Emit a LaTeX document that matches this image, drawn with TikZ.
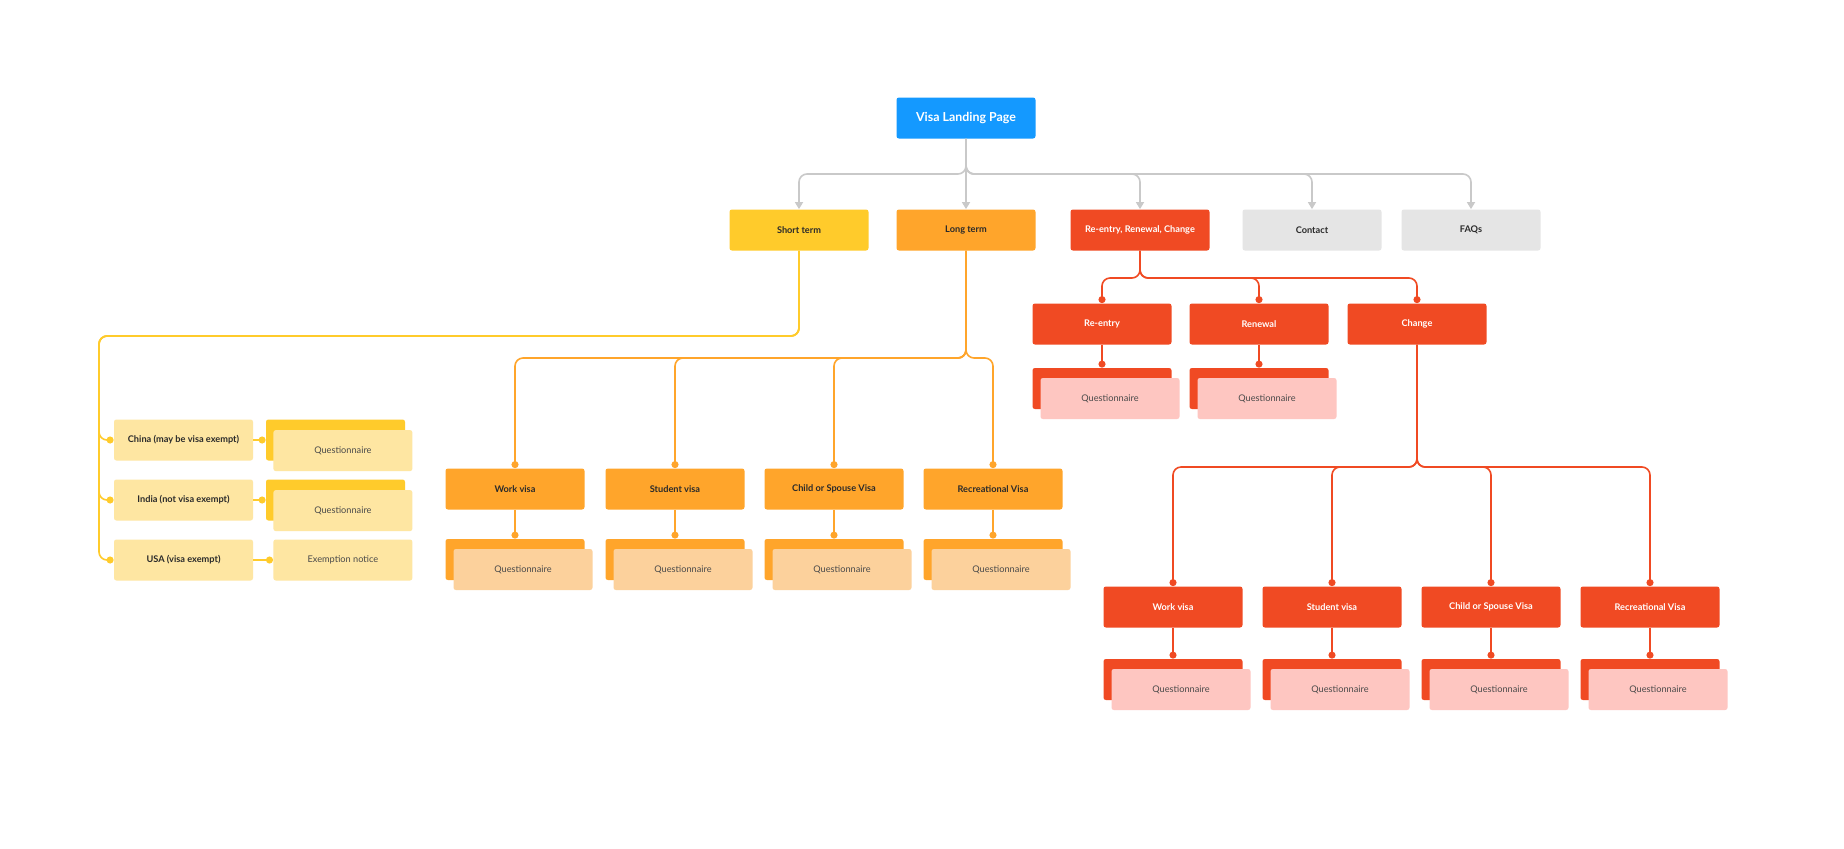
\documentclass[tikz,border=0pt]{standalone}
\usepackage{fontspec}
\setmainfont{Lato}
\usetikzlibrary{arrows.meta}
\definecolor{cblue}{HTML}{1499FF}
\definecolor{cyel}{HTML}{FFCB2B}
\definecolor{cyelL}{HTML}{FEE6A2}
\definecolor{corg}{HTML}{FFA52B}
\definecolor{corgL}{HTML}{FCD19C}
\definecolor{cred}{HTML}{F04A23}
\definecolor{cpink}{HTML}{FEC6C1}
\definecolor{cgray}{HTML}{E5E5E5}
\definecolor{cgline}{HTML}{C9C9C9}
\definecolor{ctext}{HTML}{2A2A2A}
\tikzset{
 box/.style={minimum width=69.5pt,minimum height=20.5pt,inner sep=0pt,rounded corners=1.2pt,font=\fontsize{4.6}{5}\selectfont\bfseries,text=ctext},
 qbox/.style={box,font=\fontsize{4.6}{5}\selectfont,text=ctext!85},
 gl/.style={draw=cgline,line width=0.8pt,rounded corners=4pt,-{Triangle[length=3.5pt,width=4pt]}},
 yl/.style={draw=cyel,line width=0.8pt,rounded corners=4pt,-{Circle[length=3.5pt]}},
 ol/.style={draw=corg,line width=0.8pt,rounded corners=4pt,-{Circle[length=3.5pt]}},
 rl/.style={draw=cred,line width=0.8pt,rounded corners=4pt,-{Circle[length=3.5pt]}},
}
\begin{document}
\begin{tikzpicture}[x=0.5pt,y=-0.5pt]
\useasboundingbox[fill=white] (0,0) rectangle (1844,848);
% top
\node[box,fill=cblue,text=white,font=\fontsize{6.2}{7}\selectfont\bfseries] (visa) at (966,118) {Visa Landing Page};
\node[box,fill=cyel] (st) at (799,230) {Short term};
\node[box,fill=corg] (lt) at (966,230) {Long term};
\node[box,fill=cred,text=white] (rrc) at (1140,230) {Re-entry, Renewal, Change};
\node[box,fill=cgray] (ct) at (1312,230) {Contact};
\node[box,fill=cgray] (fq) at (1471,230) {FAQs};
\coordinate (b0) at (0,174);
\foreach \c in {st,lt,rrc,ct,fq}{
 \draw[gl] (visa.south) -- (visa.south |- b0) -- (\c.north |- b0) -- (\c.north);
}
% red level 2
\node[box,fill=cred,text=white] (re) at (1102,324) {Re-entry};
\node[box,fill=cred,text=white] (rn) at (1259,324) {Renewal};
\node[box,fill=cred,text=white] (ch) at (1417,324) {Change};
\coordinate (b1) at (0,278);
\foreach \c in {re,rn,ch}{
 \draw[rl] (rrc.south) -- (rrc.south |- b1) -- (\c.north |- b1) -- (\c.north);
}
\foreach \p/\n in {re/reQ,rn/rnQ}{
 \node[box,fill=cred] (\n) at ([yshift=-64.5*0.5pt]\p.center) {};
 \node[qbox,fill=cpink] (\n f) at ([xshift=4pt,yshift=-5pt]\n.center) {Questionnaire};
 \draw[rl] (\p.south) -- (\n.north);
}
% red level 3
\node[box,fill=cred,text=white] (rw) at (1173,607) {Work visa};
\node[box,fill=cred,text=white] (rs) at (1332,607) {Student visa};
\node[box,fill=cred,text=white] (rc) at (1491,607) {Child or Spouse Visa};
\node[box,fill=cred,text=white] (rr) at (1650,607) {Recreational Visa};
\coordinate (b2) at (0,467);
\foreach \c in {rw,rs,rc,rr}{
 \draw[rl] (ch.south) -- (ch.south |- b2) -- (\c.north |- b2) -- (\c.north);
 \node[box,fill=cred] (\c Q) at ([yshift=-72.5*0.5pt]\c.center) {};
 \node[qbox,fill=cpink] (\c Qf) at ([xshift=4pt,yshift=-5pt]\c Q.center) {Questionnaire};
 \draw[rl] (\c.south) -- (\c Q.north);
}
% orange level
\node[box,fill=corg] (ow) at (515,489) {Work visa};
\node[box,fill=corg] (os) at (675,489) {Student visa};
\node[box,fill=corg] (oc) at (834,489) {Child or Spouse Visa};
\node[box,fill=corg] (or) at (993,489) {Recreational Visa};
\coordinate (b3) at (0,358);
\foreach \c in {ow,os,oc,or}{
 \draw[ol] (lt.south) -- (lt.south |- b3) -- (\c.north |- b3) -- (\c.north);
 \node[box,fill=corg] (\c Q) at ([yshift=-70.5*0.5pt]\c.center) {};
 \node[qbox,fill=corgL] (\c Qf) at ([xshift=4pt,yshift=-5pt]\c Q.center) {Questionnaire};
 \draw[ol] (\c.south) -- (\c Q.north);
}
% short term
\node[box,fill=cyelL] (cn) at (183.5,440) {China (may be visa exempt)};
\node[box,fill=cyelL] (in) at (183.5,500) {India (not visa exempt)};
\node[box,fill=cyelL] (us) at (183.5,560) {USA (visa exempt)};
\coordinate (b4) at (99,336);
\foreach \c in {cn,in,us}{
 \draw[yl] (st.south) -- (st.south |- b4) -- (b4) -- (b4 |- \c.west) -- (\c.west);
}
\foreach \c in {cn,in}{
 \node[box,fill=cyel] (\c Q) at ([xshift=76pt]\c.center) {};
 \node[qbox,fill=cyelL] (\c Qf) at ([xshift=3.7pt,yshift=-5.3pt]\c Q.center) {Questionnaire};
 \draw[yl] (\c.east) -- (\c Q.west);
}
\node[qbox,fill=cyelL] (ex) at ([xshift=79.7pt]us.center) {Exemption notice};
\draw[yl] (us.east) -- (ex.west);
\end{tikzpicture}
\end{document}
